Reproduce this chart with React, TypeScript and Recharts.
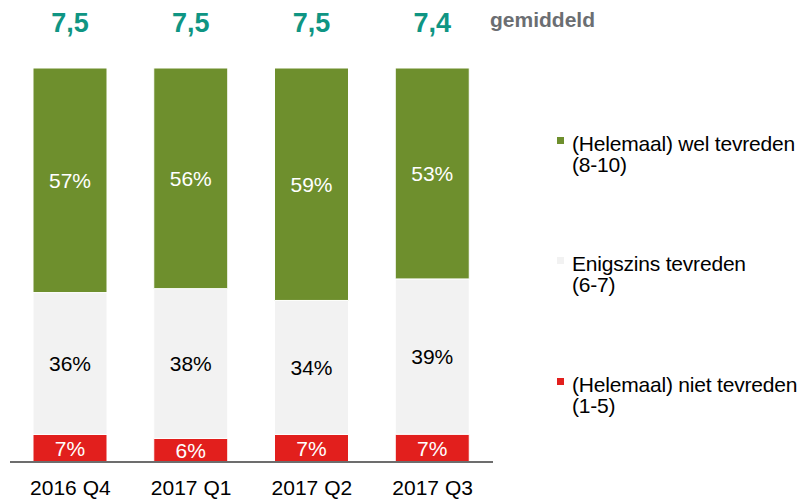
import React from "react";
import { BarChart, Bar, XAxis, YAxis, LabelList } from "recharts";

const categories = ["2016 Q4", "2017 Q1", "2017 Q2", "2017 Q3"];
const welTevreden = [57, 56, 59, 53];
const enigszinsTevreden = [36, 38, 34, 39];
const nietTevreden = [7, 6, 7, 7];
const gemiddeld = ["7,5", "7,5", "7,5", "7,4"];

const seriesNames = {
  wel: "(Helemaal) wel tevreden",
  welSub: "(8-10)",
  enig: "Enigszins tevreden",
  enigSub: "(6-7)",
  niet: "(Helemaal) niet tevreden",
  nietSub: "(1-5)",
};

const GREEN = "#6e8f2d";
const GRAY = "#f2f2f2";
const RED = "#e21f1d";
const TEAL = "#0f9583";
const FONT = "'Liberation Sans', Arial, sans-serif";

const data = categories.map((c, i) => ({
  name: c,
  wel: welTevreden[i],
  enig: enigszinsTevreden[i],
  niet: nietTevreden[i],
}));

const makeLabel = (values: number[], color: string, showAvg = false) => (props: any) => {
  const { x, y, width, height, index } = props;
  const cx = Number(x) + Number(width) / 2;
  const cy = Number(y) + Number(height) / 2;
  return (
    <g>
      <text
        x={cx}
        y={cy}
        textAnchor="middle"
        dominantBaseline="central"
        fontFamily={FONT}
        fontSize={21}
        fill={color}
      >
        {values[index]}%
      </text>
      {showAvg && (
        <text
          x={cx}
          y={32}
          textAnchor="middle"
          fontFamily={FONT}
          fontSize={27}
          fontWeight="bold"
          fill={TEAL}
        >
          {gemiddeld[index]}
        </text>
      )}
    </g>
  );
};

const legendItems = [
  { color: GREEN, l1: seriesNames.wel, l2: seriesNames.welSub, top: 133 },
  { color: GRAY, l1: seriesNames.enig, l2: seriesNames.enigSub, top: 253 },
  { color: RED, l1: seriesNames.niet, l2: seriesNames.nietSub, top: 374 },
];

const LegendBlock = () => (
  <div style={{ position: "absolute", left: 0, top: 0, width: 804, height: 499, fontFamily: FONT, pointerEvents: "none" }}>
    <div
      style={{
        position: "absolute",
        left: 490,
        top: 9,
        fontSize: 21,
        lineHeight: "21px",
        fontWeight: "bold",
        color: "#6b6e72",
        whiteSpace: "nowrap",
      }}
    >
      gemiddeld
    </div>
    {legendItems.map((it) => (
      <div key={it.l1}>
        <div
          style={{
            position: "absolute",
            left: 557,
            top: it.top + 4,
            width: 7,
            height: 7,
            background: it.color,
          }}
        />
        <div
          style={{
            position: "absolute",
            left: 572,
            top: it.top,
            fontSize: 21,
            lineHeight: "21px",
            color: "#000",
            whiteSpace: "nowrap",
            letterSpacing: "-0.2px",
          }}
        >
          <div>{it.l1}</div>
          <div>{it.l2}</div>
        </div>
      </div>
    ))}
  </div>
);

export default function App() {
  return (
    <div style={{ position: "absolute", left: 0, top: 0, width: 804, height: 499, background: "#fff" }}>
      <BarChart
        width={804}
        height={499}
        data={data}
        stackOffset="expand"
        margin={{ top: 68, right: 311, bottom: 0, left: 10 }}
      >
        <XAxis
          dataKey="name"
          height={37}
          tickLine={false}
          tickMargin={12}
          axisLine={{ stroke: "#6d6d6d", strokeWidth: 2 }}
          tick={{ fontSize: 21, fill: "#000", fontFamily: FONT }}
        />
        <YAxis hide domain={[0, 1]} />
        <Bar dataKey="niet" stackId="a" fill={RED} stroke="#fff" strokeWidth={1} barSize={74} isAnimationActive={false}>
          <LabelList content={makeLabel(nietTevreden, "#fff")} />
        </Bar>
        <Bar dataKey="enig" stackId="a" fill={GRAY} stroke="#fff" strokeWidth={1} barSize={74} isAnimationActive={false}>
          <LabelList content={makeLabel(enigszinsTevreden, "#000")} />
        </Bar>
        <Bar dataKey="wel" stackId="a" fill={GREEN} stroke="#fff" strokeWidth={1} barSize={74} isAnimationActive={false}>
          <LabelList content={makeLabel(welTevreden, "#fff", true)} />
        </Bar>
      </BarChart>
      <LegendBlock />
    </div>
  );
}
